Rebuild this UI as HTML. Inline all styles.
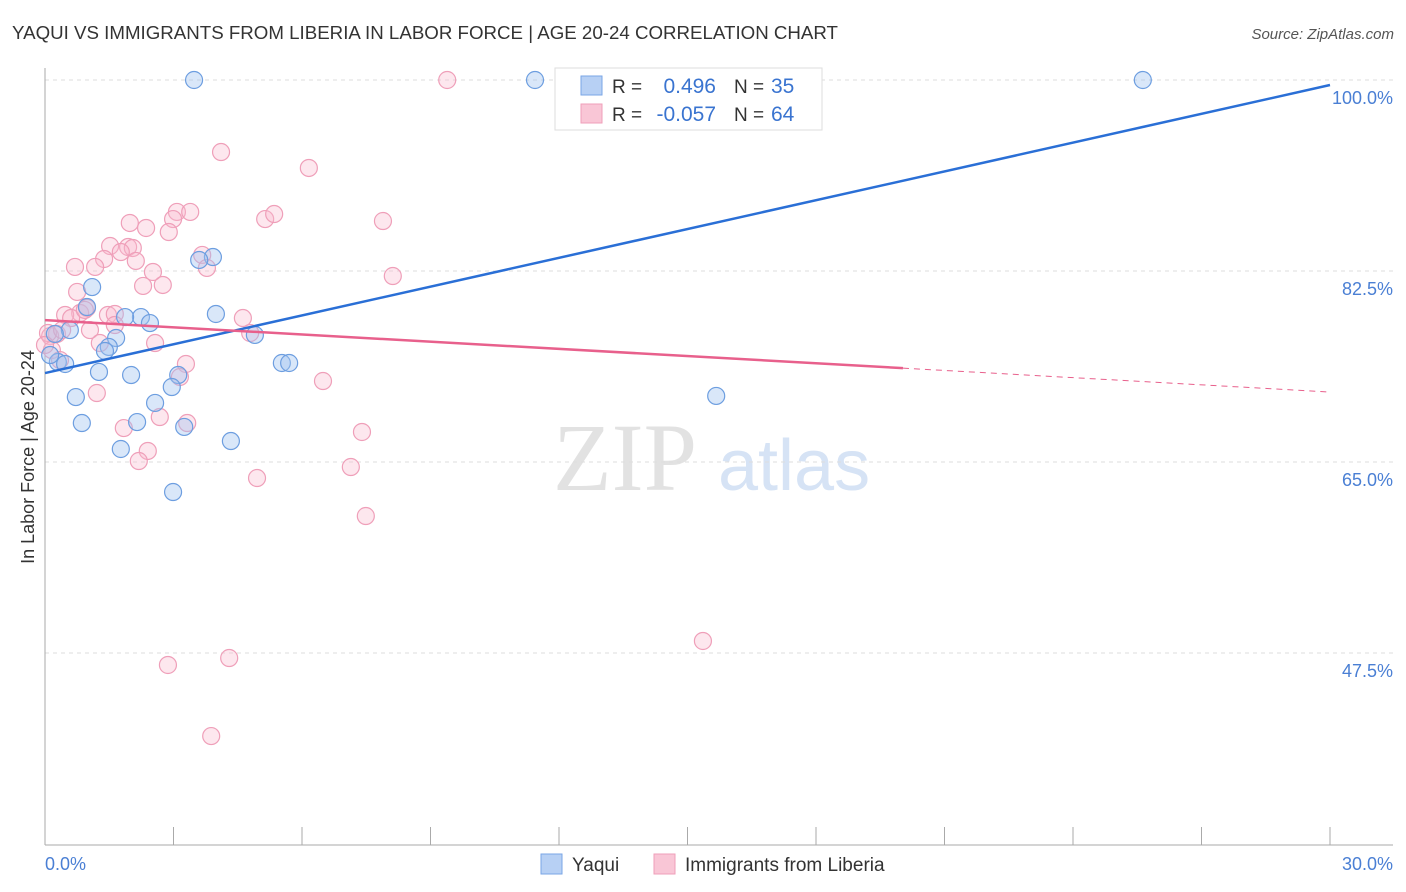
<!DOCTYPE html>
<html><head><meta charset="utf-8">
<style>
body{margin:0;background:#fff;font-family:"Liberation Sans",sans-serif;}
#wrap{position:relative;width:1406px;height:892px;overflow:hidden;}
</style></head>
<body>
<div id="wrap">
<svg id="chart" width="1406" height="892"></svg>
</div>
<script>
const blueX=[3.48,11.44,25.63,3.92,3.60,1.10,3.99,2.24,1.87,2.45,0.98,0.58,4.90,1.66,1.49,1.40,0.23,0.30,0.47,1.26,2.01,3.11,2.96,5.53,5.70,2.57,0.72,0.86,2.15,3.25,4.34,1.77,2.99,15.67,0.12];
const blueY=[100,100,100,83.78,83.51,81.03,78.56,78.28,78.28,77.73,79.20,77.09,76.64,76.36,75.54,75.17,76.73,74.16,73.98,73.25,72.97,72.97,71.87,74.07,74.07,70.41,70.95,68.57,68.66,68.21,66.92,66.19,62.25,71.05,74.80];
const pinkX=[9.39,4.11,6.16,3.08,3.39,2.99,5.14,5.35,7.89,1.98,2.36,2.89,1.52,1.94,2.05,1.77,3.67,1.38,2.12,0.70,1.17,3.78,2.52,8.12,2.29,2.75,0.75,0.98,0.82,0.47,1.47,1.63,0.61,1.63,1.05,4.62,4.79,0.28,0.12,1.28,2.57,3.29,3.15,6.49,1.21,2.68,3.32,1.84,7.40,2.40,2.19,7.14,4.95,7.49,15.36,2.87,4.30,3.88,0.07,0.16,0.35,0.93,0.00,0.40,13.35];
const pinkY=[100,93.40,91.94,87.91,87.91,87.26,87.26,87.72,87.08,86.90,86.44,86.07,84.79,84.70,84.61,84.24,83.97,83.60,83.42,82.87,82.87,82.78,82.41,82.04,81.13,81.22,80.58,79.11,78.65,78.47,78.47,78.56,78.19,77.55,77.09,78.19,76.82,76.73,76.54,75.90,75.90,73.98,72.79,72.42,71.32,69.12,68.57,68.11,67.75,66.01,65.09,64.54,63.53,60.05,48.60,46.40,47.04,39.89,76.82,75.26,74.34,78.93,75.72,77.09,100];
const blueTrend=[73.15,99.54];
const pinkTrend=[78.0,71.41];
const pinkSolidEnd=20.03;
const yTicks=[100,82.5,65,47.5];
const yTickLabels=["100.0%","82.5%","65.0%","47.5%"];
const xTickLabels=["0.0%","30.0%"];

const NS="http://www.w3.org/2000/svg";
const svg=document.getElementById('chart');
const X0=45,X1=1330;
function sx(v){return X0+(v/30)*(X1-X0);}
function sy(v){return 80+(100-v)*10.914;}
function mk(tag,attrs,parent){const e=document.createElementNS(NS,tag);for(const k in attrs)e.setAttribute(k,attrs[k]);(parent||svg).appendChild(e);return e;}

let t=mk('text',{x:12,y:39,'font-size':18.5,fill:'#333',textLength:826,lengthAdjust:'spacingAndGlyphs'});
t.textContent="YAQUI VS IMMIGRANTS FROM LIBERIA IN LABOR FORCE | AGE 20-24 CORRELATION CHART";


t=mk('text',{x:1394,y:39,'font-size':15,fill:'#555','font-style':'italic','text-anchor':'end'});
t.textContent="Source: ZipAtlas.com";



t=mk('text',{x:553,y:490,'font-size':96,fill:'#e2e2e2','font-family':'Liberation Serif, serif'});
t.textContent="ZIP";


t=mk('text',{x:718,y:490,'font-size':72,fill:'#d6e3f5'});
t.textContent="atlas";



yTicks.forEach((v,i)=>{
  const g=mk('line',{x1:X0,x2:1393,y1:sy(v),y2:sy(v),stroke:'#ddd','stroke-dasharray':'4,4'});
  
  
  const l=mk('text',{x:1393,y:sy(v)+24,'font-size':18,fill:'#4a7fd4','text-anchor':'end'});
  l.textContent=yTickLabels[i];
  
  
});
let a=mk('line',{x1:X0,x2:X0,y1:68,y2:845,stroke:'#aaa'});


a=mk('line',{x1:X0,x2:1393,y1:845,y2:845,stroke:'#aaa'});


for(let k=0;k<=10;k++){
  const tk=mk('line',{x1:sx(k*3),x2:sx(k*3),y1:827,y2:845,stroke:'#aaa'});
  
  
}
t=mk('text',{x:45,y:870,'font-size':18,fill:'#4a7fd4'});
t.textContent=xTickLabels[0];


t=mk('text',{x:1393,y:870,'font-size':18,fill:'#4a7fd4','text-anchor':'end'});
t.textContent=xTickLabels[1];


t=mk('text',{x:34,y:457,'font-size':18,fill:'#333','text-anchor':'middle',transform:'rotate(-90 34 457)'});
t.textContent="In Labor Force | Age 20-24";



pinkX.forEach((v,i)=>{
  const c=mk('circle',{cx:sx(v),cy:sy(pinkY[i]),r:8.5,fill:'rgba(248,185,205,0.35)',stroke:'#ef9fb9','stroke-width':1.2});
  
  
});
blueX.forEach((v,i)=>{
  const c=mk('circle',{cx:sx(v),cy:sy(blueY[i]),r:8.5,fill:'rgba(160,195,240,0.4)',stroke:'#6d9ee0','stroke-width':1.2});
  
  
});
let ln=mk('line',{x1:sx(0),y1:sy(blueTrend[0]),x2:sx(30),y2:sy(blueTrend[1]),stroke:'#2a6fd6','stroke-width':2.5});


const pAt=x=>pinkTrend[0]+(pinkTrend[1]-pinkTrend[0])*x/30;
ln=mk('line',{x1:sx(0),y1:sy(pinkTrend[0]),x2:sx(pinkSolidEnd),y2:sy(pAt(pinkSolidEnd)),stroke:'#e8608c','stroke-width':2.5});


ln=mk('line',{x1:sx(pinkSolidEnd),y1:sy(pAt(pinkSolidEnd)),x2:sx(30),y2:sy(pinkTrend[1]),stroke:'#e8608c','stroke-width':1,'stroke-dasharray':'6,5'});



const lg=mk('g',{});


mk('rect',{x:555,y:68,width:267,height:62,fill:'#fff',stroke:'#ddd'},lg);
mk('rect',{x:581,y:76,width:21,height:19,fill:'#b7d0f4',stroke:'#7aa6e6'},lg);
mk('rect',{x:581,y:104,width:21,height:19,fill:'#f9c6d6',stroke:'#ef9fb9'},lg);
const rows=[["R = ","0.496","35",93],["R = ","-0.057","64",121]];
rows.forEach(r=>{
  let a=mk('text',{x:612,y:r[3],'font-size':19,fill:'#333'},lg);a.textContent=r[0];
  let b=mk('text',{x:716,y:r[3],'font-size':21,fill:'#3a74d0','text-anchor':'end'},lg);b.textContent=r[1];
  let c=mk('text',{x:734,y:r[3],'font-size':19,fill:'#333'},lg);c.textContent="N = ";
  let d=mk('text',{x:771,y:r[3],'font-size':21,fill:'#3a74d0'},lg);d.textContent=r[2];
});
const bl=mk('g',{});


mk('rect',{x:541,y:854,width:21,height:20,fill:'#b7d0f4',stroke:'#7aa6e6'},bl);
t=mk('text',{x:572,y:871,'font-size':19,fill:'#333'},bl);t.textContent="Yaqui";
mk('rect',{x:654,y:854,width:21,height:20,fill:'#f9c6d6',stroke:'#ef9fb9'},bl);
t=mk('text',{x:685,y:871,'font-size':19,fill:'#333'},bl);t.textContent="Immigrants from Liberia";
</script>
</body></html>
